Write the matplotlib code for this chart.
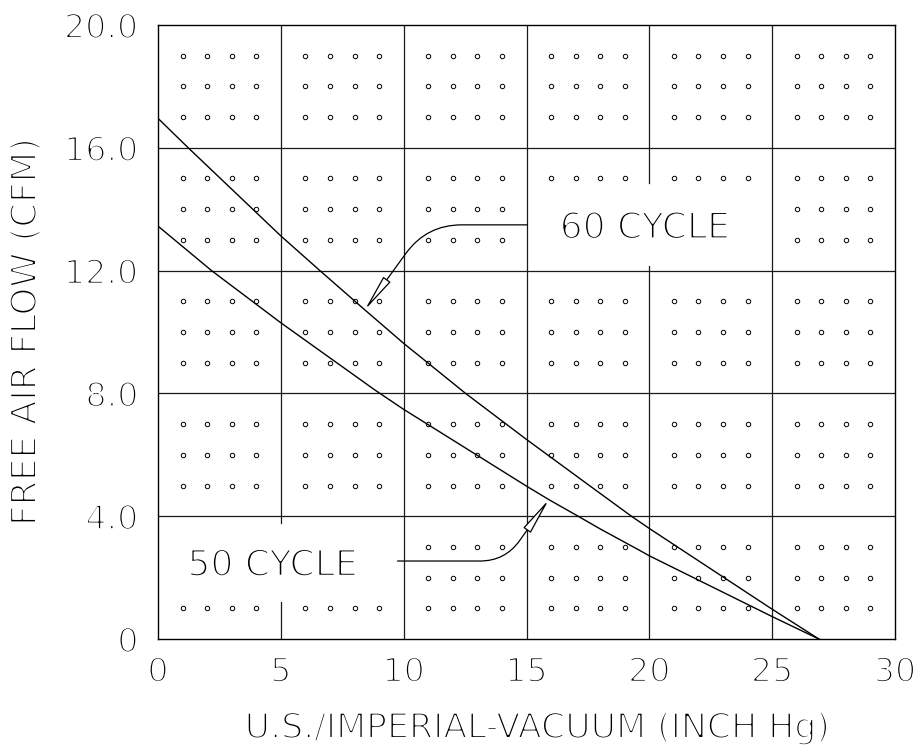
import matplotlib
matplotlib.use('Agg')
import matplotlib.pyplot as plt
from matplotlib import patheffects as pe

# ---- data ----
x_ticks = [0, 5, 10, 15, 20, 25, 30]
x_tick_labels = ['0', '5', '10', '15', '20', '25', '30']
y_ticks = [0, 4, 8, 12, 16, 20]
y_tick_labels = ['0', '4.0', '8.0', '12.0', '16.0', '20.0']

vac_60 = [0, 1.23, 5, 6.59, 8.42, 10, 12.52, 15, 17.9, 19.27, 20, 25, 26.9]
flow_60 = [16.96, 16.0, 13.13, 12.0, 10.72, 9.63, 8.0, 6.5, 4.8, 4.0, 3.6, 0.97, 0]

vac_50 = [0, 2.18, 5, 8.83, 10, 15, 15.91, 17.1, 17.99, 19.62, 20, 25, 26.9]
flow_50 = [13.45, 12.0, 10.3, 8.11, 7.48, 4.98, 4.54, 4.0, 3.59, 2.88, 2.71, 0.73, 0]

label_60 = '60 CYCLE'
label_50 = '50 CYCLE'
x_label = 'U.S./IMPERIAL-VACUUM (INCH Hg)'
y_label = 'FREE AIR FLOW (CFM)'

W, H = 918, 755
fig = plt.figure(figsize=(W / 100, H / 100), dpi=100)
ax = fig.add_axes([158 / W, (H - 639) / H, (895 - 158) / W, (639 - 25) / H])
ax.set_xlim(0, 30)
ax.set_ylim(0, 20)

thin = [pe.Stroke(linewidth=1.5, foreground='white')]
FONT = ['DejaVu Sans']

# grid lines (with gaps behind the labels)
gcol = '#1a1a1a'
glw = 0.9
gaps = {5: (1.2, 3.79), 20: (12.15, 14.85)}
for xv in x_ticks[1:-1]:
    if xv in gaps:
        g0, g1 = gaps[xv]
        ax.plot([xv, xv], [0, g0], color=gcol, lw=glw, zorder=1)
        ax.plot([xv, xv], [g1, 20], color=gcol, lw=glw, zorder=1)
    else:
        ax.plot([xv, xv], [0, 20], color=gcol, lw=glw, zorder=1)
for yv in y_ticks[1:-1]:
    ax.plot([0, 30], [yv, yv], color=gcol, lw=glw, zorder=1)

# dots inside the cells
missing = {(3, 3): (1, 2), (4, 3): (1, 2), (0, 0): (2, 3), (1, 0): (2, 3)}
dx, dy = [], []
for ci in range(6):
    for cj in range(5):
        for i in range(1, 5):
            for j in range(1, 4):
                if (ci, cj) in missing and j in missing[(ci, cj)]:
                    continue
                dx.append(ci * 5 + i)
                dy.append(cj * 4 + j)
ax.plot(dx, dy, 'o', ms=3.2, mfc='white', mec='black', mew=0.7, ls='none', zorder=2)

# curves
ax.plot(vac_60, flow_60, color='black', lw=1.0, zorder=3)
ax.plot(vac_50, flow_50, color='black', lw=1.0, zorder=3)

# annotations
ax.annotate('', xy=(vac_60[4], flow_60[4]), xytext=(15.03, 13.49),
            arrowprops=dict(arrowstyle='-|>,head_length=2.3,head_width=0.28',
                            connectionstyle='angle,angleA=0,angleB=54,rad=35',
                            fc='white', ec='black', lw=0.9, shrinkA=0, shrinkB=0,
                            mutation_scale=10), zorder=4)
ax.annotate('', xy=(vac_50[6], flow_50[6]), xytext=(9.75, 2.54),
            arrowprops=dict(arrowstyle='-|>,head_length=2.3,head_width=0.28',
                            connectionstyle='angle,angleA=0,angleB=54.5,rad=25',
                            fc='white', ec='black', lw=0.9, shrinkA=0, shrinkB=0,
                            mutation_scale=10), zorder=4)

ax.text(16.35, 13.05, label_60, fontsize=26, family=FONT, ha='left', va='baseline',
        path_effects=thin, zorder=5)
ax.text(1.2, 2.06, label_50, fontsize=26, family=FONT, ha='left', va='baseline',
        path_effects=thin, zorder=5)

# ticks
ax.set_xticks(x_ticks)
ax.set_xticklabels(x_tick_labels, family=FONT, fontsize=24, path_effects=thin)
ax.set_yticks(y_ticks)
ax.set_yticklabels(y_tick_labels, family=FONT, fontsize=24, path_effects=thin)
ax.tick_params(axis='both', length=0)
ax.tick_params(axis='x', pad=12)
ax.tick_params(axis='y', pad=14)

for s in ax.spines.values():
    s.set_linewidth(1.0)
    s.set_color('black')

# axis labels
fig.text(537 / W, 1 - 738 / H, x_label, fontsize=25, family=FONT, ha='center',
         va='baseline', path_effects=thin)
fig.text(26 / W, 1 - 332 / H, y_label, fontsize=25.5, family=FONT, ha='center',
         va='center', rotation=90, path_effects=thin)

fig.savefig('out.png', dpi=100)
